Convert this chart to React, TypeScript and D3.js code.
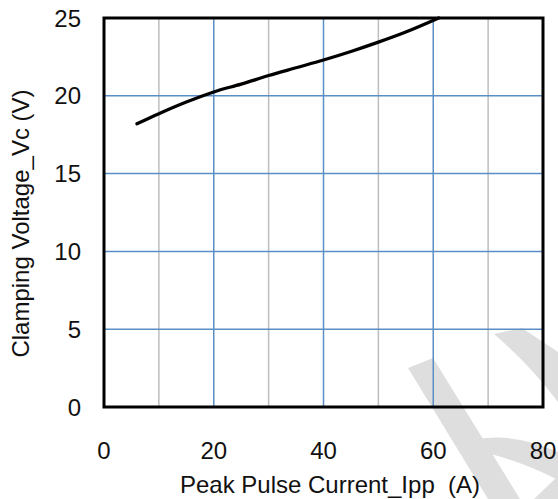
import { useEffect, useRef } from "react"
import * as d3 from "d3"

const currentA = [6, 10, 15, 20, 25, 30, 35, 40, 45, 50, 55, 61]
const clampV = [18.2, 18.85, 19.6, 20.25, 20.75, 21.3, 21.8, 22.3, 22.85, 23.45, 24.1, 25]
const xTicks = [0, 20, 40, 60, 80]
const yTicks = [0, 5, 10, 15, 20, 25]
const xMinor = [10, 30, 50, 70]

export default function App() {
  const ref = useRef<SVGSVGElement | null>(null)

  useEffect(() => {
    const svg = d3.select(ref.current)
    svg.selectAll("*").remove()

    const width = 558
    const height = 499
    const m = { left: 104, top: 18, right: 15, bottom: 92 }
    const font = "'Liberation Sans', Arial, sans-serif"

    const x = d3.scaleLinear().domain([0, 80]).range([m.left, width - m.right])
    const y = d3.scaleLinear().domain([0, 25]).range([height - m.bottom, m.top])

    svg.attr("width", width).attr("height", height)
    svg.append("rect").attr("width", width).attr("height", height).attr("fill", "#fff")

    // faint watermark in the lower right
    const wm = svg.append("g").attr("fill", "#dedede")
    wm.append("path").attr("d", "M408,368 L433,358 L520,499 L488,499 Z")
    wm.append("path").attr("d", "M458,444 Q505,428 558,452 L558,480 Q510,455 460,448 Z")
    wm.append("path").attr("d", "M494,334 L522,328 L558,352 L558,402 Q530,365 494,334 Z")
    wm.append("path").attr("d", "M534,499 L558,476 L558,499 Z")

    const grid = svg.append("g")
    grid.selectAll("line.minor")
      .data(xMinor)
      .enter()
      .append("line")
      .attr("x1", d => x(d)).attr("x2", d => x(d))
      .attr("y1", y(0)).attr("y2", y(25))
      .attr("stroke", "#bdbdbd").attr("stroke-width", 1.5)

    grid.selectAll("line.vx")
      .data(xTicks.slice(1, -1))
      .enter()
      .append("line")
      .attr("x1", d => x(d)).attr("x2", d => x(d))
      .attr("y1", y(0)).attr("y2", y(25))
      .attr("stroke", "#5b8ec4").attr("stroke-width", 1.5)

    grid.selectAll("line.hy")
      .data(yTicks.slice(1, -1))
      .enter()
      .append("line")
      .attr("x1", x(0)).attr("x2", x(80))
      .attr("y1", d => y(d)).attr("y2", d => y(d))
      .attr("stroke", "#5b8ec4").attr("stroke-width", 1.5)

    const line = d3.line<number>()
      .x((d, i) => x(currentA[i]))
      .y(d => y(d))
      .curve(d3.curveMonotoneX)

    svg.append("path")
      .datum(clampV)
      .attr("d", line)
      .attr("fill", "none")
      .attr("stroke", "#000")
      .attr("stroke-width", 3.2)
      .attr("stroke-linecap", "round")

    svg.append("rect")
      .attr("x", x(0)).attr("y", y(25))
      .attr("width", x(80) - x(0)).attr("height", y(0) - y(25))
      .attr("fill", "none").attr("stroke", "#000").attr("stroke-width", 3)

    svg.append("g").selectAll("text")
      .data(xTicks)
      .enter()
      .append("text")
      .attr("x", d => x(d)).attr("y", 459)
      .attr("text-anchor", "middle")
      .attr("font-family", font).attr("font-size", "24px").attr("fill", "#111")
      .text(d => d)

    svg.append("g").selectAll("text")
      .data(yTicks)
      .enter()
      .append("text")
      .attr("x", 81).attr("y", d => y(d) + 8.5)
      .attr("text-anchor", "end")
      .attr("font-family", font).attr("font-size", "24px").attr("fill", "#111")
      .text(d => d)

    svg.append("text")
      .attr("x", 330).attr("y", 493)
      .attr("text-anchor", "middle")
      .attr("font-family", font).attr("font-size", "24px").attr("fill", "#111")
      .style("white-space", "pre")
      .text("Peak Pulse Current_Ipp  (A)")

    svg.append("text")
      .attr("transform", `translate(29, ${(y(0) + y(25)) / 2 + 11}) rotate(-90)`)
      .attr("text-anchor", "middle")
      .attr("font-family", font).attr("font-size", "24px").attr("fill", "#111")
      .text("Clamping Voltage_Vc (V)")
  }, [])

  return (
    <div style={{ position: "fixed", left: 0, top: 0 }}>
      <svg ref={ref} style={{ display: "block" }} />
    </div>
  )
}
